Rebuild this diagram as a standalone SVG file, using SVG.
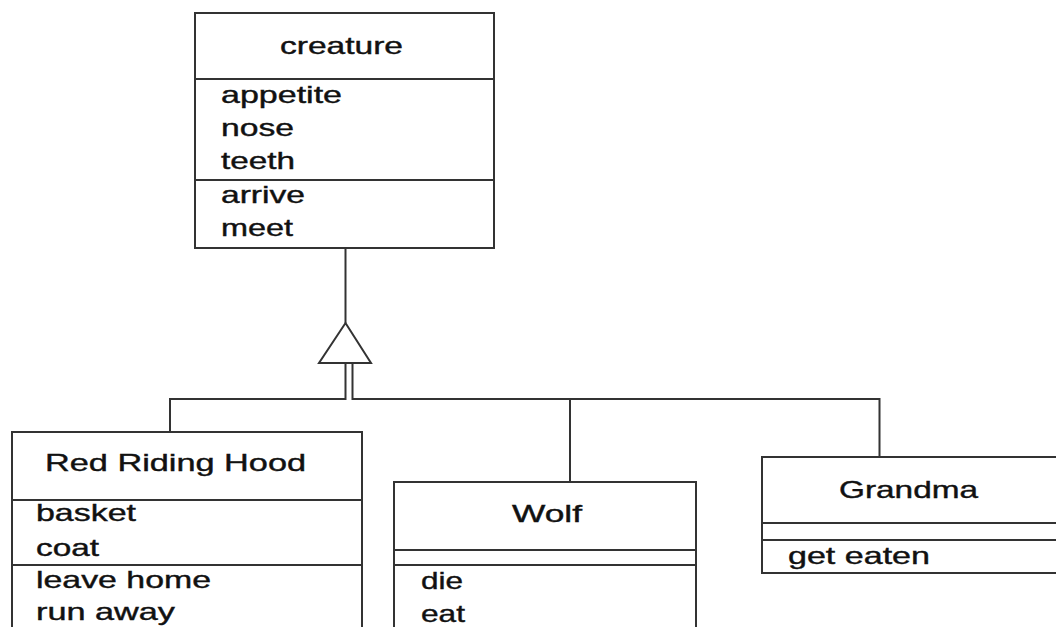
<svg xmlns="http://www.w3.org/2000/svg" width="1056" height="627" viewBox="0 0 1056 627">
<style>
.box{fill:#fff;stroke:#333;stroke-width:2}
.ln{fill:none;stroke:#333;stroke-width:2}
text{font-family:"Liberation Sans",Arial,sans-serif;font-size:24px;fill:#111;stroke:#111;stroke-width:0.4}
</style>
<rect width="1056" height="627" fill="#fff"/>
<g id="connectors">
<line class="ln" x1="345.5" y1="248" x2="345.5" y2="323"/>
<polygon class="ln" points="345.5,323 371,363 319,363"/>
<polyline class="ln" points="345.5,363 345.5,399 170,399 170,432"/>
<polyline class="ln" points="352.5,363 352.5,399 879.5,399 879.5,457"/>
<line class="ln" x1="570" y1="399" x2="570" y2="482"/>
</g>
<g id="creature">
<rect class="box" x="195" y="13" width="299" height="235"/>
<line class="ln" x1="195" y1="79" x2="494" y2="79"/>
<line class="ln" x1="195" y1="180" x2="494" y2="180"/>
<text x="280" y="54" textLength="123" lengthAdjust="spacingAndGlyphs">creature</text>
<text x="221" y="103" textLength="121" lengthAdjust="spacingAndGlyphs">appetite</text>
<text x="221" y="136" textLength="73" lengthAdjust="spacingAndGlyphs">nose</text>
<text x="221" y="169" textLength="74" lengthAdjust="spacingAndGlyphs">teeth</text>
<text x="221" y="203" textLength="84" lengthAdjust="spacingAndGlyphs">arrive</text>
<text x="221" y="236" textLength="72" lengthAdjust="spacingAndGlyphs">meet</text>
</g>
<g id="redridinghood">
<rect class="box" x="12" y="432" width="350" height="210"/>
<line class="ln" x1="12" y1="500" x2="362" y2="500"/>
<line class="ln" x1="12" y1="565" x2="362" y2="565"/>
<text x="45" y="471" textLength="261" lengthAdjust="spacingAndGlyphs">Red Riding Hood</text>
<text x="36" y="521" textLength="100" lengthAdjust="spacingAndGlyphs">basket</text>
<text x="36" y="556" textLength="63" lengthAdjust="spacingAndGlyphs">coat</text>
<text x="36" y="588" textLength="175" lengthAdjust="spacingAndGlyphs">leave home</text>
<text x="36" y="620" textLength="139" lengthAdjust="spacingAndGlyphs">run away</text>
</g>
<g id="wolf">
<rect class="box" x="394" y="482" width="302" height="160"/>
<line class="ln" x1="394" y1="550" x2="696" y2="550"/>
<line class="ln" x1="394" y1="565" x2="696" y2="565"/>
<text x="512" y="522" textLength="70" lengthAdjust="spacingAndGlyphs">Wolf</text>
<text x="421" y="589" textLength="42" lengthAdjust="spacingAndGlyphs">die</text>
<text x="421" y="622" textLength="44" lengthAdjust="spacingAndGlyphs">eat</text>
</g>
<g id="grandma">
<rect class="box" x="762" y="457" width="300" height="116"/>
<line class="ln" x1="762" y1="523" x2="1062" y2="523"/>
<line class="ln" x1="762" y1="540" x2="1062" y2="540"/>
<text x="839" y="498" textLength="139" lengthAdjust="spacingAndGlyphs">Grandma</text>
<text x="788" y="564" textLength="142" lengthAdjust="spacingAndGlyphs">get eaten</text>
</g>
</svg>
